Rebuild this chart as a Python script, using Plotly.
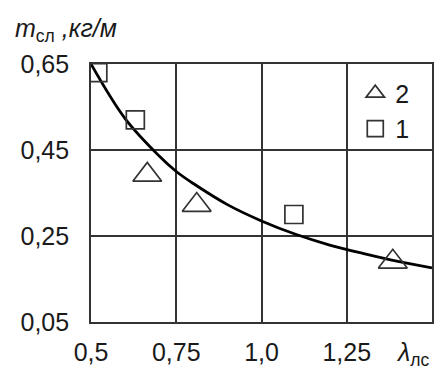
import plotly.graph_objects as go

# data
sq_x = [0.52, 0.63, 1.095]
sq_y = [0.63, 0.52, 0.30]
tr_x = [0.665, 0.81, 1.385]
tr_y = [0.392, 0.322, 0.19]
curve_x = [0.5, 0.6, 0.7, 0.75, 0.8, 0.9, 1.0, 1.1, 1.2, 1.3, 1.4, 1.5]
curve_y = [0.65, 0.523, 0.436, 0.40, 0.372, 0.323, 0.285, 0.254, 0.229, 0.209, 0.191, 0.176]
x_ticks = [0.5, 0.75, 1.0, 1.25]
x_ticktext = ["0,5", "0,75", "1,0", "1,25"]
y_ticks = [0.05, 0.25, 0.45, 0.65]
y_ticktext = ["0,05", "0,25", "0,45", "0,65"]

FONT = "Liberation Sans, Arial, sans-serif"
INK = "#333333"
FS = 25

fig = go.Figure()
fig.add_trace(go.Scatter(x=curve_x, y=curve_y, mode="lines", line=dict(color="black", width=2.8, shape="spline"),
                         showlegend=False, hoverinfo="skip"))
fig.add_trace(go.Scatter(x=tr_x, y=tr_y, mode="markers", name="2",
                         marker=dict(symbol="triangle-up-open", size=25, color=INK, line=dict(width=1.7))))
fig.add_trace(go.Scatter(x=sq_x, y=sq_y, mode="markers", name="1",
                         marker=dict(symbol="square-open", size=18, color=INK, line=dict(width=1.7))))

fig.update_layout(
    width=435, height=367,
    margin=dict(l=91, r=1, t=64, b=45),
    plot_bgcolor="white", paper_bgcolor="white",
    font=dict(family=FONT, size=FS, color="#1a1a1a"),
    legend=dict(x=0.775, y=0.975, xanchor="left", yanchor="top", bgcolor="rgba(0,0,0,0)",
                font=dict(size=FS), itemwidth=30, tracegroupgap=0),
    xaxis=dict(range=[0.5, 1.5], tickvals=x_ticks, ticktext=x_ticktext, showgrid=True,
               gridcolor=INK, gridwidth=1.6, showline=True, mirror=True, linecolor=INK, linewidth=1.6,
               zeroline=False, ticks="", ticklen=0, tickfont=dict(size=FS), ticklabelstandoff=7),
    yaxis=dict(range=[0.05, 0.65], tickvals=y_ticks, ticktext=y_ticktext, showgrid=True,
               gridcolor=INK, gridwidth=1.6, showline=True, mirror=True, linecolor=INK, linewidth=1.6,
               zeroline=False, ticks="", ticklen=0, tickfont=dict(size=FS), ticklabelstandoff=15),
)

fig.add_annotation(xref="paper", yref="paper", x=1.0, y=-0.124, xanchor="right", yanchor="middle",
                   text="<i>λ</i><sub>лс</sub>", showarrow=False, font=dict(size=FS))
fig.add_annotation(xref="paper", yref="paper", x=-0.23, y=1.132, xanchor="left", yanchor="middle",
                   text="<i>m</i><sub>сл</sub> <i>,кг/м</i>", showarrow=False, font=dict(size=FS))

fig.write_html("out.html", config={"displayModeBar": False})

with open("out.html", encoding="utf-8") as f:
    html = f.read()
html = html.replace("<head>", "<head><style>html,body{margin:0;padding:0;overflow:hidden}</style>", 1)
with open("out.html", "w", encoding="utf-8") as f:
    f.write(html)
